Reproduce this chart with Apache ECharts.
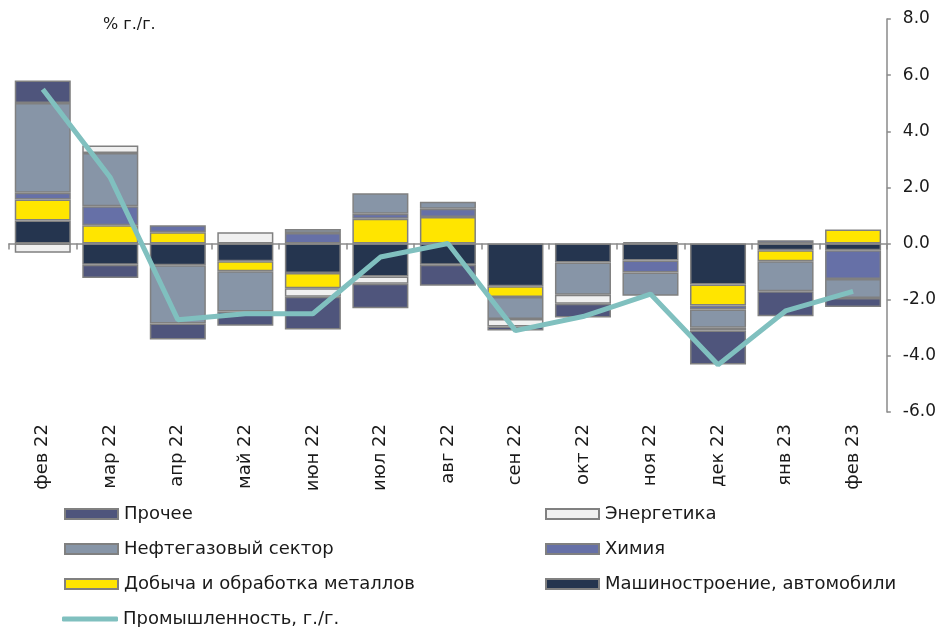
<!DOCTYPE html>
<html>
<head>
<meta charset="utf-8">
<script src="https://cdn.jsdelivr.net/npm/echarts@6/dist/echarts.min.js"></script>
<style>
html,body{margin:0;padding:0;background:#fff;}
#chart{width:939px;height:627px;}
</style>
</head>
<body>
<div id="chart"></div>
<script>
const categories = ['фев 22','мар 22','апр 22','май 22','июн 22','июл 22','авг 22','сен 22','окт 22','ноя 22','дек 22','янв 23','фев 23'];
const yTicks = [-6, -4, -2, 0, 2, 4, 6, 8];

const mashinostroenie = [0.82, -0.75, -0.77, -0.63, -1.05, -1.17, -0.75, -1.52, -0.67, -0.60, -1.46, -0.24, -0.24];
const metally         = [0.75, 0.65, 0.40, -0.36, -0.54, 0.88, 0.95, -0.38, 0, 0, -0.75, -0.39, 0.50];
const khimiya         = [0.24, 0.68, 0.25, 0, 0.38, 0.18, 0.29, 0, 0, -0.43, -0.14, 0.12, -1.02];
const neftegaz        = [3.20, 1.90, -2.08, -1.43, 0.14, 0.73, 0.25, -0.79, -1.15, -0.83, -0.65, -1.07, -0.68];
const energetika      = [-0.33, 0.26, 0, 0.40, -0.30, -0.26, 0, -0.26, -0.32, 0, -0.10, 0, 0];
const prochee         = [0.80, -0.48, -0.57, -0.51, -1.17, -0.87, -0.75, -0.15, -0.49, 0.05, -1.21, -0.89, -0.32];
const promyshlennost  = [5.50, 2.35, -2.71, -2.50, -2.50, -0.48, 0.00, -3.10, -2.60, -1.80, -4.32, -2.40, -1.70];

const names = {
  mash: 'Машиностроение, автомобили',
  met: 'Добыча и обработка металлов',
  chem: 'Химия',
  oil: 'Нефтегазовый сектор',
  en: 'Энергетика',
  other: 'Прочее',
  ind: 'Промышленность, г./г.'
};

const FONT = 'DejaVu Sans';
const borderC = '#808080';
function bar(name, data, color) {
  return {
    name: name, type: 'bar', stack: 'total', xAxisIndex: 0, yAxisIndex: 0,
    barCategoryGap: '17%',
    data: data.map(v => v === 0 ? null : v),
    itemStyle: { color: color, borderColor: borderC, borderWidth: 1.5 },
    emphasis: { disabled: true }
  };
}

const textStyle = { fontFamily: FONT, fontSize: 18, color: '#1a1a1a' };
function legendItem(name, left, centerY, isLine) {
  return {
    left: left, top: centerY - 8, padding: 0, orient: 'horizontal',
    itemWidth: isLine ? 56 : 53, itemHeight: isLine ? 5 : 10, itemGap: 0,
    textStyle: Object.assign({ padding: [0, 0, 0, isLine ? 0 : 1] }, textStyle),
    selectedMode: false,
    data: [isLine
      ? { name: name, icon: 'roundRect', itemStyle: { color: '#80c0bf', borderWidth: 0 } }
      : { name: name, icon: 'rect' }]
  };
}

const chart = echarts.init(document.getElementById('chart'), null, { renderer: 'canvas' });
chart.setOption({
  animation: false,
  backgroundColor: '#ffffff',
  textStyle: { fontFamily: FONT },
  title: {
    text: '% г./г.', left: 103, top: 17, padding: 0,
    textStyle: { fontFamily: FONT, fontSize: 16, fontWeight: 'normal', color: '#1a1a1a' }
  },
  grid: { left: 9, right: 50, top: 19, bottom: 215, containLabel: false },
  legend: [
    legendItem(names.other, 64, 513, false),
    legendItem(names.oil, 64, 548, false),
    legendItem(names.met, 64, 583, false),
    legendItem(names.ind, 62, 618, true),
    legendItem(names.en, 545, 513, false),
    legendItem(names.chem, 545, 548, false),
    legendItem(names.mash, 545, 583, false)
  ],
  xAxis: [
    {
      type: 'category', data: categories, position: 'bottom',
      axisLine: { show: false, onZero: false },
      axisTick: { show: false },
      axisLabel: { rotate: 90, margin: 12, fontFamily: FONT, fontSize: 18, color: '#1a1a1a', interval: 0 }
    },
    {
      type: 'category', data: categories, position: 'top',
      axisLine: { show: true, onZero: true, lineStyle: { color: '#8a8a8a', width: 1.5 } },
      axisTick: { show: true, inside: true, length: 6, lineStyle: { color: '#8a8a8a', width: 1.5 } },
      axisLabel: { show: false }
    }
  ],
  yAxis: {
    type: 'value', position: 'right', min: yTicks[0], max: yTicks[yTicks.length - 1], interval: 2,
    splitLine: { show: false },
    axisLine: { show: true, lineStyle: { color: '#8a8a8a', width: 1.5 } },
    axisTick: { show: true, inside: false, length: 4, lineStyle: { color: '#8a8a8a', width: 1.5 } },
    axisLabel: { margin: 16, fontFamily: FONT, fontSize: 17, color: '#1a1a1a', formatter: v => v.toFixed(1) }
  },
  series: [
    bar(names.mash, mashinostroenie, '#25354f'),
    bar(names.met, metally, '#ffe500'),
    bar(names.chem, khimiya, '#6670a7'),
    bar(names.oil, neftegaz, '#8795a7'),
    bar(names.en, energetika, '#f0f0f0'),
    bar(names.other, prochee, '#4f557c'),
    {
      name: names.ind, type: 'line', data: promyshlennost, xAxisIndex: 0, yAxisIndex: 0,
      symbol: 'none', z: 10,
      lineStyle: { color: '#80c0bf', width: 5 },
      itemStyle: { color: '#80c0bf' },
      emphasis: { disabled: true }
    }
  ]
});
</script>
</body>
</html>
